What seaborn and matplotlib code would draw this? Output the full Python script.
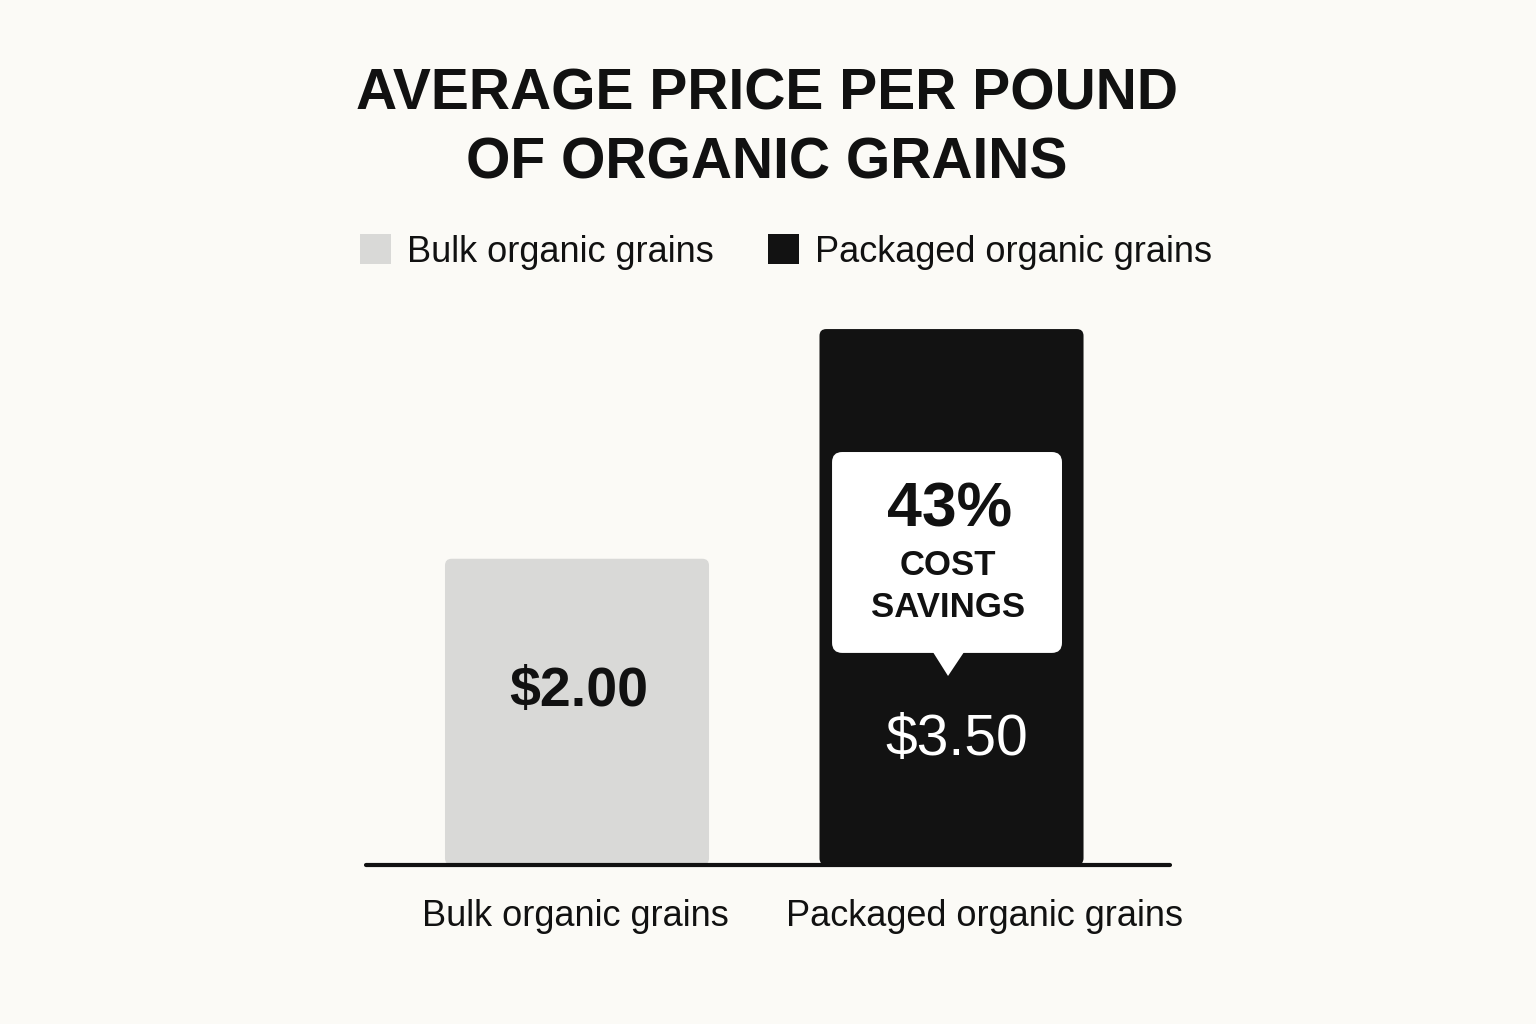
import matplotlib
matplotlib.use("Agg")
import matplotlib.pyplot as plt
import seaborn as sns
import pandas as pd
from matplotlib.patches import FancyBboxPatch, Polygon, Patch

# data
categories = ["Bulk organic grains", "Packaged organic grains"]
prices = [2.00, 3.50]
price_labels = ["$2.00", "$3.50"]
savings_pct = "43%"
bar_colors = ["#D9D9D7", "#121212"]
title = "AVERAGE PRICE PER POUND\nOF ORGANIC GRAINS"

bg = "#FBFAF6"
ink = "#111111"

sns.set_theme(style="white")
plt.rcParams["font.family"] = ["Liberation Sans", "DejaVu Sans"]

df = pd.DataFrame({"category": categories, "price": prices})

fig = plt.figure(figsize=(15.36, 10.24), dpi=100, facecolor=bg)
# axes placed so the baseline runs 366..1170 px, y=865 px
ax = fig.add_axes([366 / 1536, 159 / 1024, 804 / 1536, 612.5 / 1024])
ax.set_facecolor(bg)

sns.barplot(data=df, x="category", y="price", hue="category",
            palette=bar_colors, width=0.705, legend=False, ax=ax,
            saturation=1)

ax.set_xlim(-0.5634, 1.5834)
ax.set_ylim(0, 4.0)

# swap the square bars for slightly rounded ones
for p in list(ax.patches):
    x0, y0 = p.get_x(), p.get_y()
    w, h = p.get_width(), p.get_height()
    fc = p.get_facecolor()
    p.remove()
    ax.add_patch(FancyBboxPatch((x0, y0), w, h,
                                boxstyle="round,pad=0,rounding_size=0.018",
                                mutation_aspect=2.45, fc=fc, ec="none", zorder=2))

ax.axhline(0, color=ink, lw=3.0, zorder=3, clip_on=False)
for s in ax.spines.values():
    s.set_visible(False)
ax.set_xticks([])
ax.set_yticks([])
ax.set_xlabel("")
ax.set_ylabel("")

# category labels under the baseline
label_dx = [-2, 33]
for i, cat in enumerate(categories):
    ax.annotate(cat, xy=(i, 0), xytext=(label_dx[i] * 0.72, -52 * 0.72),
                textcoords="offset points", ha="center", va="center",
                fontsize=26, color=ink)

# value labels
ax.text(0.005, 1.13, price_labels[0], ha="center", va="center",
        fontsize=40, fontweight="bold", color=ink, zorder=5)
ax.text(1.015, 0.8165, price_labels[1], ha="center", va="center",
        fontsize=41, color="white", zorder=5)

# callout bubble on the packaged bar
ax.add_patch(FancyBboxPatch((0.681, 1.385), 1.295 - 0.681, 2.697 - 1.385,
                            boxstyle="round,pad=0,rounding_size=0.027",
                            mutation_aspect=2.45, fc="white", ec="none", zorder=4))
ax.add_patch(Polygon([(0.948, 1.40), (1.036, 1.40), (0.9907, 1.2345)],
                     closed=True, fc="white", ec="none", zorder=4))
ax.text(0.996, 2.319, savings_pct, ha="center", va="center",
        fontsize=45, fontweight="bold", color=ink, zorder=5)
ax.text(0.99, 1.953, "COST", ha="center", va="center",
        fontsize=25, fontweight="bold", color=ink, zorder=5)
ax.text(0.99, 1.679, "SAVINGS", ha="center", va="center",
        fontsize=25, fontweight="bold", color=ink, zorder=5)

# title
fig.text(767 / 1536, 1 - 129 / 1024, title, ha="center", va="center",
         fontsize=41, fontweight="bold", color=ink, linespacing=1.38)

# legend
handles = [Patch(fc=c, ec="none", label=l) for c, l in zip(bar_colors, categories)]
fig.legend(handles=handles, loc="center", bbox_to_anchor=(786 / 1536, 1 - 252 / 1024),
           ncol=2, frameon=False, fontsize=26, handlelength=0.86, handleheight=0.86,
           handletextpad=0.45, columnspacing=1.5, borderpad=0, labelcolor=ink)

fig.savefig("out.png", dpi=100, facecolor=bg)
